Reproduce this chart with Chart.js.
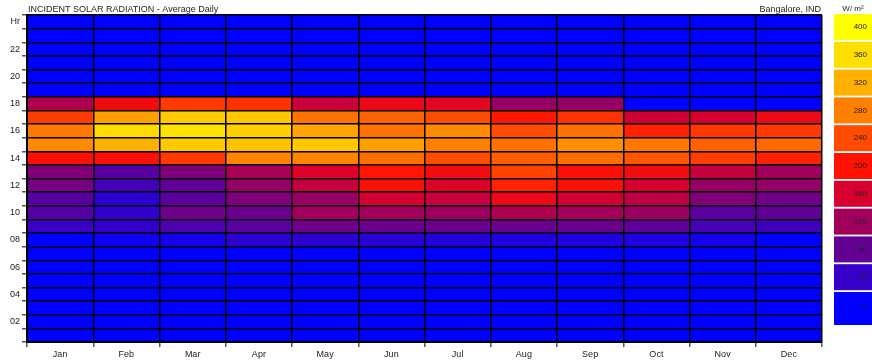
<!DOCTYPE html>
<html>
<head>
<meta charset="utf-8">
<script src="https://cdn.jsdelivr.net/npm/chart.js@4/dist/chart.umd.min.js"></script>
<style>
  html, body { margin: 0; padding: 0; background: #fff; }
  #wrap { width: 872px; height: 361px; }
</style>
</head>
<body>
<div id="wrap"><canvas id="c" width="872" height="361"></canvas></div>
<script>
// Incident solar radiation, average daily profile, W/m² per hour (hour 1 .. hour 24)
const months = ['Jan', 'Feb', 'Mar', 'Apr', 'May', 'Jun', 'Jul', 'Aug', 'Sep', 'Oct', 'Nov', 'Dec'];
const hours = [1, 2, 3, 4, 5, 6, 7, 8, 9, 10, 11, 12, 13, 14, 15, 16, 17, 18, 19, 20, 21, 22, 23, 24];
const hourTickLabels = ['', '', '02', '', '04', '', '06', '', '08', '', '10', '', '12', '', '14', '', '16', '', '18', '', '20', '', '22', '', 'Hr'];

//           h1 h2 h3 h4 h5 h6 h7  h8  h9  h10  h11  h12  h13  h14  h15  h16  h17  h18 h19..h24
const jan = [0, 0, 0, 0, 0, 0, 0,  0, 42,  67,  71,  93, 100, 195, 288, 275, 230, 130, 0, 0, 0, 0, 0, 0];
const feb = [0, 0, 0, 0, 0, 0, 0, 10, 38,  38,  33,  52,  70, 195, 320, 356, 307, 185, 0, 0, 0, 0, 0, 0];
const mar = [0, 0, 0, 0, 0, 0, 0, 15, 60,  88,  72,  78,  99, 228, 343, 365, 343, 228, 0, 0, 0, 0, 0, 0];
const apr = [0, 0, 0, 0, 0, 0, 0, 33, 72,  86,  99, 113, 125, 285, 335, 347, 340, 222, 0, 0, 0, 0, 0, 0];
const may = [0, 0, 0, 0, 0, 0, 0, 33, 88, 120, 114, 146, 163, 285, 340, 310, 270, 150, 0, 0, 0, 0, 0, 0];
const jun = [0, 0, 0, 0, 0, 0, 0, 30, 86, 120, 157, 195, 202, 268, 307, 270, 258, 178, 0, 0, 0, 0, 0, 0];
const jul = [0, 0, 0, 0, 0, 0, 0, 27, 86, 117, 146, 165, 186, 242, 281, 291, 242, 171, 0, 0, 0, 0, 0, 0];
const aug = [0, 0, 0, 0, 0, 0, 0, 24, 86, 131, 178, 211, 234, 255, 270, 240, 203, 113, 0, 0, 0, 0, 0, 0];
const sep = [0, 0, 0, 0, 0, 0, 0, 24, 86, 123, 155, 195, 195, 268, 294, 270, 222, 113, 0, 0, 0, 0, 0, 0];
const oct = [0, 0, 0, 0, 0, 0, 0, 22, 77, 116, 141, 160, 186, 249, 273, 211, 155,   0, 0, 0, 0, 0, 0, 0];
const nov = [0, 0, 0, 0, 0, 0, 0, 15, 55,  72,  99, 113, 146, 231, 258, 228, 160,   0, 0, 0, 0, 0, 0, 0];
const dec = [0, 0, 0, 0, 0, 0, 0,  0, 48,  78,  88, 113, 120, 211, 264, 228, 182,   0, 0, 0, 0, 0, 0, 0];

const monthSeries = [jan, feb, mar, apr, may, jun, jul, aug, sep, oct, nov, dec];

// Colour scale
const scaleSteps = [0, 40, 80, 120, 160, 200, 240, 280, 320, 360, 400];
const scaleColors = [
  [0, 0, 255], [54, 0, 200], [98, 0, 148], [160, 0, 92], [216, 0, 46],
  [255, 18, 0], [255, 74, 0], [255, 127, 0], [255, 176, 0], [255, 223, 0], [255, 255, 0]
];
const rgb = c => `rgb(${c[0]},${c[1]},${c[2]})`;

function colorFor(v) {
  if (v <= scaleSteps[0]) return rgb(scaleColors[0]);
  for (let i = 1; i < scaleSteps.length; i++) {
    if (v <= scaleSteps[i]) {
      const t = (v - scaleSteps[i - 1]) / (scaleSteps[i] - scaleSteps[i - 1]);
      const a = scaleColors[i - 1], b = scaleColors[i];
      return rgb([0, 1, 2].map(k => Math.round(a[k] + (b[k] - a[k]) * t)));
    }
  }
  return rgb(scaleColors[scaleColors.length - 1]);
}

const FONT = 'Liberation Sans, Arial, sans-serif';

// One floating-bar dataset per hour: each bar spans [hour-1, hour]
const datasets = hours.map((h, i) => ({
  label: 'Hour ' + h,
  data: months.map(() => [h - 1, h]),
  backgroundColor: monthSeries.map(s => colorFor(s[i])),
  borderWidth: 0,
  barPercentage: 1,
  categoryPercentage: 1,
  grouped: false
}));

// Header texts and colour key
const decorations = {
  id: 'decorations',
  afterDraw(chart) {
    const ctx = chart.ctx;
    const area = chart.chartArea;
    ctx.save();
    ctx.fillStyle = '#222';
    ctx.font = '9px ' + FONT;
    ctx.textBaseline = 'alphabetic';
    ctx.textAlign = 'left';
    ctx.fillText('INCIDENT SOLAR RADIATION - Average Daily', area.left + 1, 12);
    ctx.textAlign = 'right';
    ctx.fillText('Bangalore, IND', area.right - 1, 12);

    // colour key
    const kx = 834, kw = 38, top = 14, step = 27.8, bh = 26;
    ctx.textAlign = 'center';
    ctx.font = '8px ' + FONT;
    ctx.fillText('W/ m²', kx + kw / 2, 11);
    const n = scaleSteps.length;
    for (let j = 0; j < n; j++) {
      const idx = n - 1 - j;
      const y = top + j * step;
      const h = idx === 0 ? 33 : bh;
      ctx.fillStyle = rgb(scaleColors[idx]);
      ctx.fillRect(kx, y, kw, h);
      ctx.fillStyle = '#222';
      ctx.textAlign = 'right';
      ctx.textBaseline = 'middle';
      ctx.fillText(String(scaleSteps[idx]), kx + kw - 5, y + (idx === 0 ? 14 : bh / 2));
    }
    ctx.restore();
  }
};

new Chart(document.getElementById('c'), {
  type: 'bar',
  data: { labels: months, datasets },
  options: {
    responsive: false,
    animation: false,
    devicePixelRatio: 1,
    layout: { padding: { top: 15, right: 50, left: 0, bottom: 0 } },
    plugins: { legend: { display: false }, tooltip: { enabled: false } },
    scales: {
      x: {
        type: 'category',
        offset: true,
        afterFit: s => { s.height = 19; },
        grid: { offset: true, z: 1, color: '#000', lineWidth: 1.5, tickLength: 5, tickColor: '#555' },
        border: { z: 2, color: '#000', width: 2 },
        ticks: { z: 2, color: '#222', font: { family: FONT, size: 9 }, padding: 2, maxRotation: 0, autoSkip: false }
      },
      y: {
        type: 'linear',
        min: 0,
        max: 24,
        afterFit: s => { s.width = 27; },
        grid: { z: 1, color: '#000', lineWidth: 1.5, tickLength: 5, tickColor: '#555' },
        border: { z: 2, color: '#000', width: 2 },
        ticks: {
          z: 2,
          stepSize: 1,
          autoSkip: false,
          color: '#222',
          font: { family: FONT, size: 9 },
          padding: 2,
          labelOffset: 6.8,
          callback: v => hourTickLabels[v] ?? ''
        }
      }
    }
  },
  plugins: [decorations]
});
</script>
</body>
</html>
